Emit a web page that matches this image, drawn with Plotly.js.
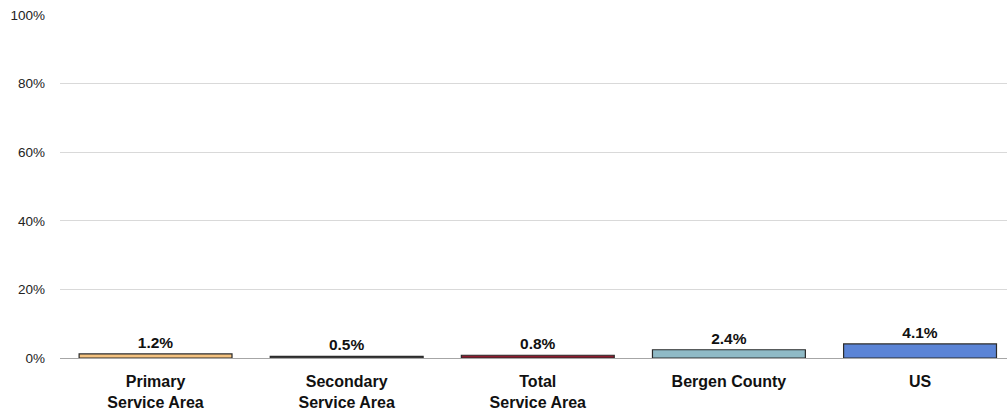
<!DOCTYPE html>
<html><head><meta charset="utf-8">
<script src="https://cdn.plot.ly/plotly-3.0.1.min.js"></script>
<style>html,body{margin:0;padding:0;background:#fff}#chart{width:1007px;height:413px}</style>
</head><body><div id="chart"></div>
<script>
const categories = ["Primary<br>Service Area", "Secondary<br>Service Area", "Total<br>Service Area", "Bergen County", "US"];
const values = [1.2, 0.5, 0.8, 2.4, 4.1];
const barColors = ["#F4C27F", "#4A4A4A", "#8E1B2E", "#8FBAC6", "#5B84D6"];
const yTicks = [0, 20, 40, 60, 80, 100];
const yTickLabels = ["0%", "20%", "40%", "60%", "80%", "100%"];

const FONT = "'Liberation Sans', Arial, sans-serif";
Plotly.newPlot("chart", [{
  type: "bar",
  x: categories,
  y: values,
  marker: {color: barColors, line: {color: "#2b2b2b", width: 1.2}},
  text: values.map(v => v.toFixed(1) + "%"),
  textposition: "outside",
  textfont: {family: FONT, size: 15.5, color: "#111", weight: "bold"},
  cliponaxis: false,
  hoverinfo: "none"
}], {
  width: 1007, height: 413,
  margin: {l: 60, r: 0, t: 15, b: 55},
  paper_bgcolor: "#fff", plot_bgcolor: "#fff",
  bargap: 0.2,
  showlegend: false,
  font: {family: FONT},
  xaxis: {
    range: [-0.5, 4.455],
    tickfont: {family: FONT, size: 16, color: "#111", weight: "bold"},
    showgrid: false, showline: false, ticks: "", ticklabelstandoff: 12
  },
  yaxis: {
    range: [0, 100],
    tickvals: yTicks, ticktext: yTickLabels,
    tickfont: {family: FONT, size: 13.5, color: "#222"},
    gridcolor: "#d9d9d9", gridwidth: 1,
    zeroline: true, zerolinecolor: "#a6a6a6", zerolinewidth: 1,
    showline: false, ticks: "", ticklabelstandoff: 14
  }
}, {displayModeBar: false});
</script></body></html>
